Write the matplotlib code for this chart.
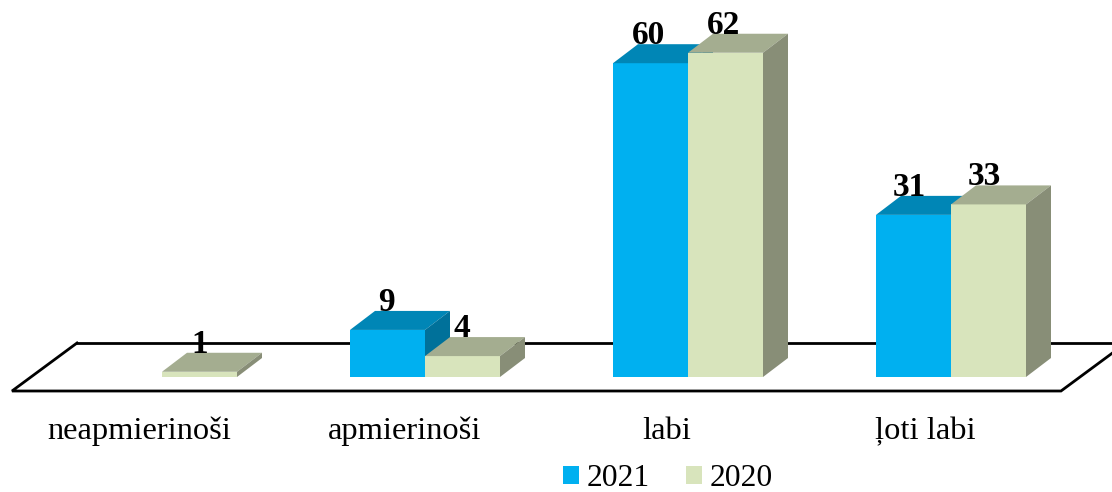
import numpy as np
from matplotlib import pyplot as plt
from matplotlib.patches import Patch, Polygon

plt.rcParams['font.family'] = ['Liberation Serif', 'DejaVu Serif']

categories = ['neapmierinoši', 'apmierinoši', 'labi', 'ļoti labi']
values_2021 = [0, 9, 60, 31]
values_2020 = [1, 4, 62, 33]
years = ['2021', '2020']
label_2021 = ['', '9', '60', '31']
label_2020 = ['1', '4', '62', '33']

# pixel scale of the reference
PX_X = 263.0
PX_Y = 5.23
bar_w = 75 / PX_X
dx = 25 / PX_X
dy = 19 / PX_Y

blue = ('#00B0F0', '#0086B6', '#00719A')
green = ('#D8E4BC', '#A4AD90', '#888E77')

#pixel -> data, only for the floor and the text rows
def px(x, y):
    return (x - 162) / PX_X, (377 - y) / PX_Y

def draw_bar(ax, x, v, colors, z):
    if v == 0:
        return
    ax.bar(x, v, bar_w, align='edge', color=colors[0], linewidth=0, zorder=z)
    top = [(x, v), (x + dx, v + dy), (x + bar_w + dx, v + dy), (x + bar_w, v)]
    side = [(x + bar_w, 0), (x + bar_w + dx, dy), (x + bar_w + dx, v + dy), (x + bar_w, v)]
    ax.add_patch(Polygon(top, closed=True, facecolor=colors[1], linewidth=0, zorder=z))
    ax.add_patch(Polygon(side, closed=True, facecolor=colors[2], linewidth=0, zorder=z))

fig = plt.figure(figsize=(11.12, 4.92), dpi=100)
ax = fig.add_axes([0, 0, 1, 1])
ax.set_xlim(px(0, 0)[0], px(1112, 0)[0])
ax.set_ylim(px(0, 492)[1], px(0, 0)[1])
ax.axis('off')

#floor
floor = [px(77, 343), px(12, 391), px(1061, 391), px(1126, 343)]
ax.plot(*zip(*floor), color='black', lw=2, zorder=1, solid_joinstyle='miter')
ax.plot(*zip(floor[3], floor[0]), color='black', lw=2, zorder=1)

xpos = np.arange(len(categories))
label_shift = [-23, -20, -21, -26]
value_shift = [0, -1, -2, -4]
for i in xpos:
    draw_bar(ax, i - bar_w, values_2021[i], blue, 2 + i)
    draw_bar(ax, i, values_2020[i], green, 2 + i + 0.5)
    ax.text(i - bar_w / 2 + value_shift[i] / PX_X, values_2021[i] + dy, label_2021[i], ha='center', va='baseline',
            fontsize=24, fontweight='bold', zorder=10)
    ax.text(i + bar_w / 2 + value_shift[i] / PX_X, values_2020[i] + dy, label_2020[i], ha='center', va='baseline',
            fontsize=24, fontweight='bold', zorder=10)
    ax.text(i + label_shift[i] / PX_X, px(0, 439)[1], categories[i], ha='center', va='baseline',
            fontsize=23.4, zorder=10)

handles = [Patch(facecolor=blue[0], linewidth=0), Patch(facecolor=green[0], linewidth=0)]
ax.legend(handles, years, ncol=2, loc='center', bbox_to_anchor=(668 / 1112, 1 - 479 / 492),
          frameon=False, fontsize=22.8, handlelength=0.5, handleheight=0.5,
          handletextpad=0.25, columnspacing=1.12, borderpad=0, borderaxespad=0)

fig.savefig('out.png', dpi=100)
